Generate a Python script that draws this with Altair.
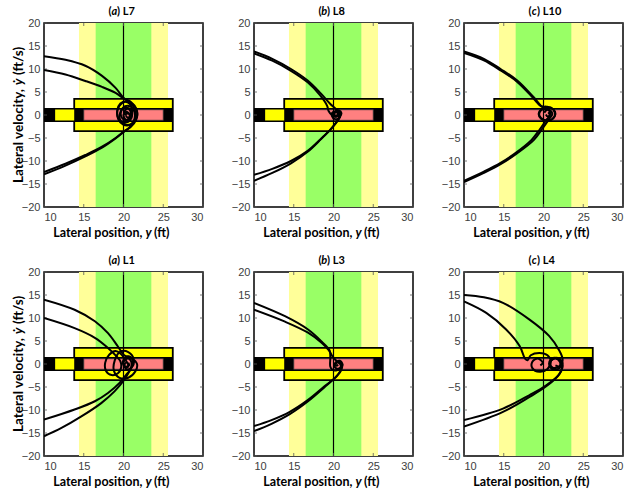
import altair as alt
import pandas as pd

# plot-area size of every panel (px)
W, H = 159, 184

# ---------------------------------------------------------------- axes
x_ticks = [10, 15, 20, 25, 30]
y_ticks = [-20, -15, -10, -5, 0, 5, 10, 15, 20]
x_domain = [10, 30]
y_domain = [-20, 20]

# ---------------------------------------------------------------- lane / vehicle boxes
box_names = ["outer band", "inner band", "box", "bar", "stub", "car"]
box_x1 = [14.4, 16.5, 13.8, 10.0, 11.4, 15.0]
box_x2 = [25.6, 23.5, 26.2, 26.2, 13.8, 25.0]
box_y1 = [-20, -20, -3.5, -1.5, -1.2, -1.15]
box_y2 = [20, 20, 3.5, 1.5, 1.2, 1.15]
box_fill = ["#FFFF99", "#99FF66", "#FFFF00", "#000000", "#FFFF00", "#FF8080"]
box_stroke = ["transparent", "transparent", "#000000", "#000000", "transparent", "#333333"]
box_sw = [0, 0, 1.8, 0, 0, 0.8]

center_line = [20]

# ---------------------------------------------------------------- trajectories
# each curve: lateral position y (ft) and lateral velocity (ft/s)
L7_top1_y = [10, 12.7, 15.2, 17.3, 19.0, 20.1, 20.9, 21.6, 21.7, 21.2, 20.4, 19.6, 19.2, 19.5, 20.2, 20.9, 21.1, 20.8, 20.3, 20.0, 20.4, 20.6]
L7_top1_v = [12.8, 12.0, 10.7, 8.5, 5.9, 3.6, 2.9, 1.4, -0.4, -1.8, -2.3, -1.6, 0.2, 2.0, 2.9, 2.2, 0.6, -0.8, -1.0, 0.0, 0.7, 0.1]
L7_top2_y = [10, 12.7, 15.2, 17.3, 19.0, 20.1, 20.8, 21.4, 21.5, 21.0, 20.2, 19.6, 19.6, 20.1, 20.7, 20.9, 20.6, 20.3]
L7_top2_v = [9.8, 8.8, 7.4, 6.1, 4.8, 3.5, 2.8, 1.2, -0.6, -1.9, -2.1, -1.2, 0.6, 1.6, 1.3, 0.2, -0.6, -0.2]
L7_bot1_y = [10, 12.7, 15.2, 17.3, 19.0, 20.1, 20.9, 21.6, 21.7, 21.2, 20.4, 19.6, 19.2, 19.4, 20.0, 20.8, 21.1, 20.8, 20.3, 20.1, 20.4]
L7_bot1_v = [-12.4, -10.6, -8.7, -6.9, -5.0, -3.5, -2.6, -1.0, 0.8, 2.3, 3.0, 2.5, 0.9, -0.9, -1.7, -1.2, 0.3, 1.4, 1.2, 0.4, -0.1]
L7_bot2_y = [10, 12.7, 15.2, 17.3, 19.0, 20.1, 20.7, 21.3, 21.4, 20.9, 20.2, 19.7, 19.8, 20.4, 20.8, 20.5, 20.3]
L7_bot2_v = [-12.9, -11.0, -9.0, -7.1, -5.1, -3.6, -2.8, -1.3, 0.6, 1.8, 1.9, 0.8, -0.6, -1.1, -0.2, 0.6, 0.2]

L8_top1_y = [10, 12.3, 14.65, 16.75, 18.4, 19.6, 20.3, 20.8, 20.7, 20.2, 19.8, 19.9, 20.4, 20.6, 20.3]
L8_top1_v = [13.8, 12.2, 10.0, 7.5, 4.7, 2.4, 1.3, 0.2, -0.7, -0.9, -0.2, 0.6, 0.6, -0.2, -0.1]
L8_top2_y = [10, 12.3, 14.65, 16.75, 18.3, 19.2, 19.4, 19.8, 20.5, 20.8, 20.5, 20.1, 20.2]
L8_top2_v = [13.4, 11.8, 9.6, 7.1, 4.3, 2.0, 0.8, 0.0, -0.3, 0.3, 0.8, 0.4, 0.0]
L8_bot1_y = [10, 12.3, 14.65, 16.75, 18.4, 19.7, 20.6, 20.9, 20.6, 20.1, 19.9, 20.3, 20.5]
L8_bot1_v = [-13.0, -11.7, -10.0, -7.8, -5.2, -3.0, -0.9, 0.3, 0.9, 0.7, 0.0, -0.4, 0.1]
L8_bot2_y = [10, 12.3, 14.65, 16.75, 18.4, 19.8, 20.7, 21.0, 20.7, 20.2, 20.0, 20.4]
L8_bot2_v = [-14.3, -12.6, -10.5, -8.0, -5.3, -2.8, -0.8, 0.4, 1.0, 0.6, -0.2, -0.2]

L10_top1_y = [10, 12.5, 14.6, 16.7, 18.8, 20.0, 20.9, 21.4, 21.3, 20.7, 20.0, 19.5, 19.6, 20.2, 20.7, 20.8, 20.5, 20.3]
L10_top1_v = [13.8, 12.2, 10.0, 7.5, 3.8, 1.6, 1.6, 0.6, -0.6, -1.2, -1.0, -0.2, 0.9, 1.5, 1.0, 0.0, -0.3, 0.1]
L10_top2_y = [10, 12.5, 14.6, 16.7, 18.7, 19.7, 20.4, 21.2, 21.5, 21.1, 20.4, 19.7, 19.4, 19.8, 20.4]
L10_top2_v = [13.5, 11.9, 9.7, 7.2, 3.7, 1.9, 1.8, 1.3, 0.2, -0.9, -1.2, -0.8, 0.3, 1.2, 1.2]
L10_bot1_y = [10, 12.5, 14.6, 16.7, 18.8, 19.8, 20.7, 21.1, 20.9, 20.4, 20.1]
L10_bot1_v = [-14.6, -12.6, -10.7, -8.3, -5.4, -3.1, -0.9, 0.2, 0.9, 1.1, 0.5]
L10_bot2_y = [10, 12.5, 14.6, 16.6, 18.5, 19.5, 20.3, 20.8, 20.6]
L10_bot2_v = [-14.3, -12.3, -10.4, -8.1, -5.4, -3.2, -1.2, 0.0, 0.6]

L1_top1_y = [10, 13.85, 16.4, 18.05, 19.3, 20.1, 21.0, 21.7, 21.5, 20.6, 19.5, 18.8, 18.9, 19.6, 20.6, 21.3, 21.1, 20.4, 20.1, 20.5]
L1_top1_v = [14.0, 11.8, 9.3, 6.7, 3.8, 1.9, 1.3, 0.0, -1.6, -3.0, -3.0, -1.5, 0.8, 2.7, 2.6, 1.0, -0.6, -1.2, 0.0, 0.4]
L1_top2_y = [10, 13.85, 16.4, 18.05, 19.1, 19.6, 19.7, 19.3, 18.5, 17.8, 17.7, 18.2, 19.0, 19.6, 20.2, 20.6, 20.4, 20.0]
L1_top2_v = [10.0, 7.8, 5.7, 3.5, 1.7, 0.6, -0.8, -2.0, -2.4, -1.5, 0.3, 2.0, 2.8, 2.3, 1.0, -0.3, -0.8, -0.2]
L1_bot1_y = [10, 13.85, 16.4, 18.05, 19.5, 20.35, 20.9, 21.2, 20.9, 20.3, 19.9, 20.2, 20.7, 20.6]
L1_bot1_v = [-12.1, -9.9, -8.1, -6.3, -4.1, -2.3, -1.2, 0.2, 1.5, 1.5, 0.3, -0.6, -0.3, 0.3]
L1_bot2_y = [10, 12.2, 14.7, 17.2, 18.9, 20.1, 20.6, 21.0, 20.9, 20.5, 20.0, 20.2]
L1_bot2_v = [-15.7, -13.9, -11.4, -8.5, -5.9, -3.4, -2.0, -0.4, 0.8, 1.2, 0.4, -0.3]

L3_top1_y = [10, 13.9, 16.8, 18.5, 19.5, 19.6, 19.6, 19.9, 20.5, 21.0, 21.1, 20.7, 20.2, 20.3, 20.6]
L3_top1_v = [13.3, 10.4, 7.5, 4.9, 3.0, 1.5, -0.6, -1.3, -1.3, -0.7, 0.1, 0.5, 0.1, -0.4, -0.2]
L3_top2_y = [10, 13.9, 16.8, 18.5, 19.4, 19.9, 20.4, 20.9, 20.8, 20.3, 20.1, 20.4]
L3_top2_v = [11.8, 9.2, 6.8, 4.6, 3.0, 1.6, 0.6, -0.2, -0.9, -0.9, -0.2, 0.2]
L3_bot1_y = [10, 12.2, 14.5, 16.8, 18.9, 20.4, 21.0, 21.1, 20.8, 20.4, 20.2, 20.5]
L3_bot1_v = [-13.5, -12.2, -10.4, -7.8, -4.8, -2.7, -1.2, 0.0, 0.7, 0.5, -0.1, -0.3]
L3_bot2_y = [10, 12.2, 14.5, 16.8, 18.9, 20.3, 20.9, 21.0, 20.7, 20.3]
L3_bot2_v = [-14.6, -13.0, -10.9, -8.1, -5.0, -2.8, -1.4, -0.2, 0.5, 0.2]

L4_top1_y = [10, 12.5, 14.9, 18.2, 20.7, 22.0, 22.4, 22.2, 21.7, 21.0, 20.7, 21.0, 21.6, 22.1, 22.0, 21.5]
L4_top1_v = [15.0, 14.5, 13.3, 9.7, 6.1, 2.9, 1.1, -0.5, -1.2, -1.0, 0.0, 1.1, 1.3, 0.6, -0.5, -0.3]
L4_top2_y = [10, 12.8, 15.3, 17.0, 17.7, 18.0, 18.4, 19.5, 20.5, 20.9, 20.5, 19.5, 18.6, 18.6, 19.3, 19.9, 19.6]
L4_top2_v = [13.6, 11.1, 7.5, 3.9, 1.1, 0.8, 1.9, 2.4, 1.9, 0.5, -1.1, -1.7, -0.9, 0.5, 1.2, 0.3, -0.3]
L4_bot1_y = [10, 14.9, 18.2, 20.3, 22.0, 22.4, 22.3, 21.8, 21.1, 20.8, 21.2, 21.9]
L4_bot1_v = [-12.2, -9.7, -6.8, -4.7, -2.2, -0.7, 0.6, 1.3, 1.0, 0.0, -0.9, -0.6]
L4_bot2_y = [10, 14.9, 18.2, 20.3, 21.9, 22.3, 22.1, 21.5, 20.9, 21.0, 21.6]
L4_bot2_v = [-13.6, -10.4, -7.2, -4.9, -2.4, -0.9, 0.4, 1.2, 0.6, -0.6, -1.0]

panels = [
    ("a", "L7", [(L7_top1_y, L7_top1_v), (L7_top2_y, L7_top2_v), (L7_bot1_y, L7_bot1_v), (L7_bot2_y, L7_bot2_v)]),
    ("b", "L8", [(L8_top1_y, L8_top1_v), (L8_top2_y, L8_top2_v), (L8_bot1_y, L8_bot1_v), (L8_bot2_y, L8_bot2_v)]),
    ("c", "L10", [(L10_top1_y, L10_top1_v), (L10_top2_y, L10_top2_v), (L10_bot1_y, L10_bot1_v), (L10_bot2_y, L10_bot2_v)]),
    ("a", "L1", [(L1_top1_y, L1_top1_v), (L1_top2_y, L1_top2_v), (L1_bot1_y, L1_bot1_v), (L1_bot2_y, L1_bot2_v)]),
    ("b", "L3", [(L3_top1_y, L3_top1_v), (L3_top2_y, L3_top2_v), (L3_bot1_y, L3_bot1_v), (L3_bot2_y, L3_bot2_v)]),
    ("c", "L4", [(L4_top1_y, L4_top1_v), (L4_top2_y, L4_top2_v), (L4_bot1_y, L4_bot1_v), (L4_bot2_y, L4_bot2_v)]),
]

# ---------------------------------------------------------------- shared pieces
TITLE_FONT = "Lato"
LABEL_FONT = "Liberation Sans"

boxes = pd.DataFrame({
    "name": box_names, "x1": box_x1, "x2": box_x2, "y1": box_y1, "y2": box_y2,
    "fill": box_fill, "stroke": box_stroke, "sw": box_sw,
})
ticks_x = pd.DataFrame({"t": x_ticks})
ticks_y = pd.DataFrame({"t": y_ticks})
one = pd.DataFrame({"k": [0]})

x_axis = alt.Axis(values=x_ticks, title=None, labelAngle=0)
y_axis = alt.Axis(values=y_ticks, title=None)


def X(field):
    return alt.X(field, type="quantitative", scale=alt.Scale(domain=x_domain, nice=False, zero=False), axis=x_axis)


def Y(field):
    return alt.Y(field, type="quantitative", scale=alt.Scale(domain=y_domain, nice=False, zero=False), axis=y_axis)


def text(s, px, py, size, align="center", italic=False, angle=0):
    kw = dict(text=s, font=TITLE_FONT, fontSize=size, fontWeight="bold", align=align,
              baseline="middle", color="black")
    if italic:
        kw["fontStyle"] = "italic"
    if angle:
        kw["angle"] = angle
    return alt.Chart(one).mark_text(**kw).encode(x=alt.value(px), y=alt.value(py))


def panel(letter, label, curves, left):
    # lane bands, vehicle box, bar and car body
    rects = alt.Chart(boxes).mark_rect().encode(
        x=X("x1"), x2="x2", y=Y("y1"), y2="y2",
        fill=alt.Fill("fill:N", scale=None),
        stroke=alt.Stroke("stroke:N", scale=None),
        strokeWidth=alt.StrokeWidth("sw:Q", scale=None),
    )
    centre = alt.Chart(pd.DataFrame({"c": center_line})).mark_rule(
        color="black", strokeWidth=1.2).encode(x=X("c"))

    # inward tick marks on all four sides
    tick_style = dict(color="#555555", strokeWidth=0.8)
    tb = alt.Chart(ticks_x).mark_rule(**tick_style).encode(x=X("t"), y=alt.value(H), y2=alt.value(H - 3))
    tt = alt.Chart(ticks_x).mark_rule(**tick_style).encode(x=X("t"), y=alt.value(0), y2=alt.value(3))
    tl = alt.Chart(ticks_y).mark_rule(**tick_style).encode(y=Y("t"), x=alt.value(0), x2=alt.value(3))
    tr = alt.Chart(ticks_y).mark_rule(**tick_style).encode(y=Y("t"), x=alt.value(W - 3), x2=alt.value(W))

    rows = []
    for ci, (ys, vs) in enumerate(curves):
        for i, (a, b) in enumerate(zip(ys, vs)):
            rows.append({"curve": ci, "i": i, "y": a, "v": b})
    traj = alt.Chart(pd.DataFrame(rows)).mark_line(
        interpolate="catmull-rom", color="black", strokeWidth=2, clip=True
    ).encode(x=X("y"), y=Y("v"), detail="curve:N", order="i:Q")

    cx = W / 2 - 2
    layers = [rects, centre, tb, tt, tl, tr, traj,
              text("(", cx - 10, -11, 11, align="right"),
              text(letter, cx - 7.2, -11, 11, italic=True),
              text(") " + label, cx - 4.4, -11, 11, align="left"),
              text("Lateral position,", W / 2 + 19, H + 26, 12.5, align="right"),
              text("y", W / 2 + 25, H + 26, 12.5, italic=True),
              text("(ft)", W / 2 + 30.5, H + 26, 12.5, align="left")]
    if left:
        ty = H / 2
        layers += [
            text("Lateral velocity,", -25, ty - 26, 13.5, align="right", angle=270),
            text("\u1e8f", -25, ty - 33, 13.5, italic=True, angle=270),
            text("(ft/s)", -25, ty - 40, 13.5, align="left", angle=270),
        ]
    return alt.layer(*layers).properties(width=W, height=H)


charts = [panel(l, lab, cv, idx % 3 == 0) for idx, (l, lab, cv) in enumerate(panels)]

chart = alt.concat(
    *charts, columns=3, spacing={"row": 65, "column": 51}, bounds="flush"
).properties(
    padding={"left": 11, "top": 5, "right": 5, "bottom": 5}, background="white"
).configure_view(
    stroke="black", strokeWidth=1.5
).configure_axis(
    ticks=False, domain=False, grid=False,
    labelFont=LABEL_FONT, labelFontSize=11, labelColor="#404040", labelPadding=4,
)

chart.save("out.html", embed_options={"renderer": "svg", "actions": False})
